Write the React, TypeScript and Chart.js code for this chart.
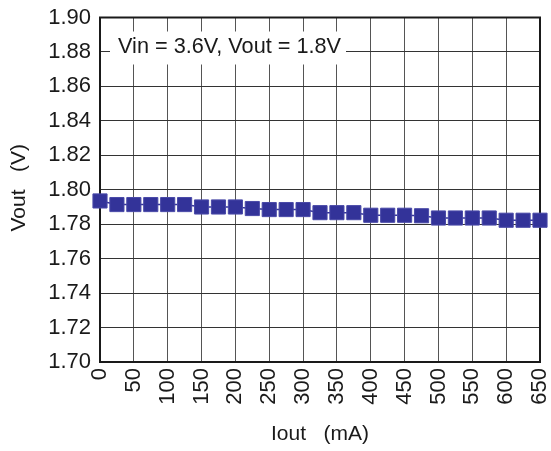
import React, { useEffect, useRef } from "react";
import { Chart, registerables } from "chart.js";

Chart.register(...registerables);

const currents = [0, 25, 50, 75, 100, 125, 150, 175, 200, 225, 250, 275, 300, 325, 350, 375, 400, 425, 450, 475, 500, 525, 550, 575, 600, 625, 650];
const vout = [1.7935, 1.7914, 1.7914, 1.7914, 1.7914, 1.7914, 1.79, 1.79, 1.79, 1.7891, 1.7885, 1.7885, 1.7885, 1.7867, 1.7867, 1.7867, 1.7852, 1.7852, 1.7852, 1.7849, 1.7836, 1.7836, 1.7836, 1.7836, 1.7823, 1.7823, 1.7823];
const xTickLabels = ["0", "50", "100", "150", "200", "250", "300", "350", "400", "450", "500", "550", "600", "650"];
const yTickLabels = ["1.70", "1.72", "1.74", "1.76", "1.78", "1.80", "1.82", "1.84", "1.86", "1.88", "1.90"];
const annotationText = "Vin = 3.6V, Vout = 1.8V";
const xTitle = "Iout   (mA)";
const yTitle = "Vout   (V)";

const FONT = "'Liberation Sans', Arial, sans-serif";

export default function App() {
  const ref = useRef<HTMLCanvasElement | null>(null);

  useEffect(() => {
    if (!ref.current) return;
    const decor = {
      id: "decor",
      beforeDatasetsDraw(chart: any) {
        const { ctx, chartArea: a } = chart;
        ctx.save();
        // annotation box
        ctx.fillStyle = "#ffffff";
        ctx.fillRect(a.left + 10, a.top + 14, 236, 33);
        ctx.fillStyle = "#1a1a1a";
        ctx.font = `21.7px ${FONT}`;
        ctx.textAlign = "left";
        ctx.textBaseline = "middle";
        ctx.fillText(annotationText, a.left + 18, a.top + 30);
        // frame
        ctx.strokeStyle = "#1a1a1a";
        ctx.lineWidth = 2;
        ctx.strokeRect(a.left, a.top, a.right - a.left, a.bottom - a.top);
        ctx.restore();
      },
      afterDraw(chart: any) {
        const { ctx, chartArea: a } = chart;
        ctx.save();
        ctx.fillStyle = "#1a1a1a";
        ctx.font = `21px ${FONT}`;
        ctx.textAlign = "center";
        ctx.textBaseline = "middle";
        ctx.fillText(xTitle, (a.left + a.right) / 2, 434);
        ctx.translate(19, (a.top + a.bottom) / 2 - 2);
        ctx.rotate(-Math.PI / 2);
        ctx.fillText(yTitle, 0, 0);
        ctx.restore();
      },
    };

    const chart = new Chart(ref.current, {
      type: "line",
      data: {
        datasets: [
          {
            data: currents.map((x, i) => ({ x, y: vout[i] })),
            borderColor: "#333399",
            backgroundColor: "#333399",
            borderWidth: 1.5,
            pointStyle: "rect",
            pointRadius: 10,
            pointBackgroundColor: "#333399",
            pointBorderColor: "#4a4aa8",
            pointBorderWidth: 1,
            tension: 0,
            clip: false,
          },
        ],
      },
      options: {
        animation: false,
        responsive: false,
        maintainAspectRatio: false,
        layout: { padding: { top: 17.5, right: 10, left: 0, bottom: 0 } },
        plugins: { legend: { display: false }, tooltip: { enabled: false } },
        scales: {
          x: {
            type: "linear",
            min: 0,
            max: 650,
            afterFit: (s: any) => {
              s.height = 89;
              s.paddingLeft = 0;
              s.paddingRight = 0;
            },
            afterBuildTicks: (s: any) => {
              s.ticks = xTickLabels.map((t) => ({ value: Number(t) }));
            },
            ticks: {
              stepSize: 50,
              minRotation: 90,
              maxRotation: 90,
              padding: 6,
              color: "#1a1a1a",
              font: { family: FONT, size: 22 },
              callback: (v: any) => String(v),
            },
            grid: { color: "#555555", lineWidth: 1, drawTicks: false },
            border: { display: false },
          },
          y: {
            type: "linear",
            min: 1.7,
            max: 1.9,
            afterFit: (s: any) => {
              s.width = 100;
              s.paddingTop = 0;
              s.paddingBottom = 0;
            },
            afterBuildTicks: (s: any) => {
              s.ticks = yTickLabels.map((t) => ({ value: Number(t) }));
            },
            ticks: {
              stepSize: 0.02,
              padding: 9,
              color: "#1a1a1a",
              font: { family: FONT, size: 22 },
              callback: (v: any) => Number(v).toFixed(2),
            },
            grid: { color: "#333333", lineWidth: 1, drawTicks: false },
            border: { display: false },
          },
        },
      },
      plugins: [decor],
    } as any);
    return () => chart.destroy();
  }, []);

  return (
    <div style={{ position: "fixed", left: 0, top: 0, width: 551, height: 451, background: "#fff" }}>
      <canvas ref={ref} width={551} height={451} style={{ display: "block" }} />
    </div>
  );
}
